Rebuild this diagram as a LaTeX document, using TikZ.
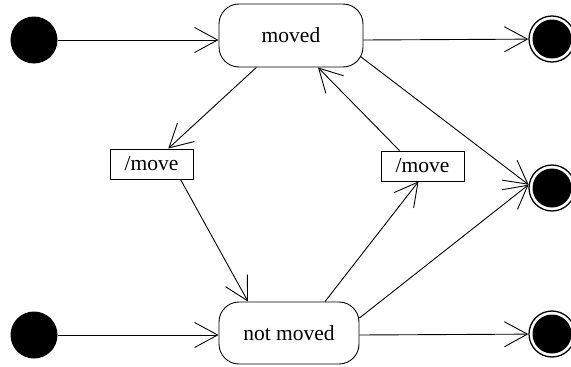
\documentclass[tikz,border=0pt]{standalone}
\usepackage{fontspec}
\setmainfont{Liberation Serif}
\usetikzlibrary{arrows.meta,calc}
\begin{document}
\begin{tikzpicture}[x=1pt,y=-1pt,
  line width=0.9pt,
  every node/.style={font=\fontsize{21.5}{24}\selectfont},
  initst/.style={circle,fill=black,minimum size=47pt,inner sep=0},
  finalst/.style={circle,draw,line width=1.3pt,minimum size=46pt,inner sep=0,
    path picture={\fill (path picture bounding box.center) circle[radius=19.5pt];}},
  statebox/.style={draw,rectangle,rounded corners=20pt,inner sep=0},
  actbox/.style={draw,rectangle,minimum width=83pt,minimum height=30pt,inner sep=0},
  trans/.style={-{Straight Barb[length=23pt,width=25pt]}}
]
\useasboundingbox (0,0) rectangle (571,367);

% states
\node[initst] (i1) at (34,40) {};
\node[initst] (i2) at (34,335) {};
\node[statebox,minimum width=144pt,minimum height=63pt] (moved) at (291,35.5) {moved};
\node[statebox,minimum width=140pt,minimum height=62pt] (notmoved) at (289,333) {not moved};
\node[actbox] (lmove) at (151.5,164) {/move};
\node[actbox] (rmove) at (422.5,166) {/move};
\node[finalst] (f1) at (552,39) {};
\node[finalst] (f2) at (552,188) {};
\node[finalst] (f3) at (552,334) {};

% transitions
\draw[trans] (i1) -- (i1 -| moved.west);
\draw[trans] (moved.east |- i1) -- (f1);
\draw[trans] (i2) -- (i2 -| notmoved.west);
\draw[trans] (notmoved.east |- i2) -- (f3);
\draw[trans] (moved) -- (lmove);
\draw[trans] ($(lmove.south)+(29,0)$) -- ($(notmoved.north)+(-41,0)$);
\draw[trans] ($(notmoved.north)+(36,0)$) -- ($(rmove.south)+(-4,0)$);
\draw[trans] ($(rmove.north)+(-23,0)$) -- ($(moved.south)+(27,0)$);
\draw[trans] ($(moved.east)+(-3,21)$) -- (f2.172);
\draw[trans] ($(notmoved.east)+(0,-15)$) -- (f2.172);
\end{tikzpicture}
\end{document}
